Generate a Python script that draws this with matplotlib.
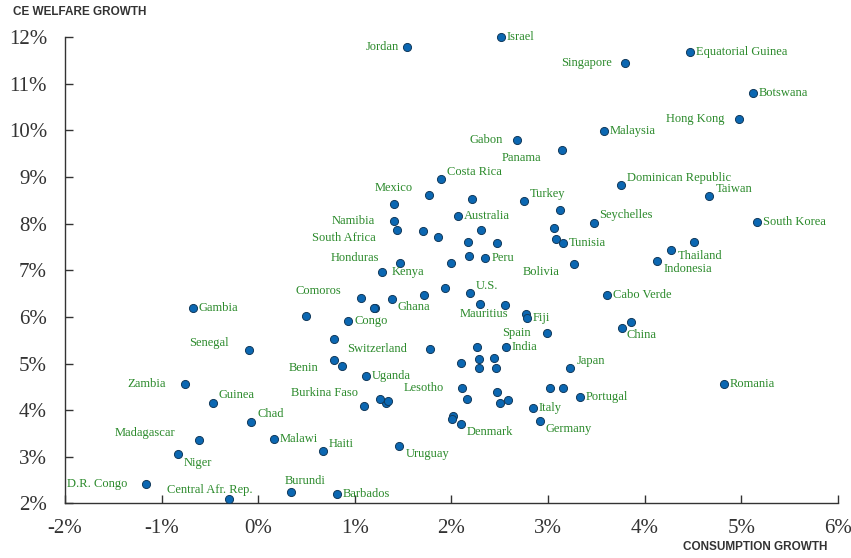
import matplotlib
matplotlib.use('Agg')
import matplotlib.pyplot as plt
from matplotlib.ticker import FuncFormatter
plt.rcParams['axes.unicode_minus'] = False

# labelled countries: consumption growth (%), CE welfare growth (%)
names = ['Jordan', 'Israel', 'Equatorial Guinea', 'Singapore', 'Botswana', 'Hong Kong',
         'Malaysia', 'Gabon', 'Panama', 'Costa Rica', 'Mexico', 'Turkey',
         'Dominican Republic', 'Taiwan', 'Namibia', 'South Africa', 'Australia',
         'Seychelles', 'South Korea', 'Tunisia', 'Thailand', 'Indonesia', 'Peru',
         'Bolivia', 'Honduras', 'Kenya', 'Comoros', 'Ghana', 'U.S.', 'Mauritius',
         'Fiji', 'Cabo Verde', 'China', 'Spain', 'India', 'Japan', 'Romania',
         'Portugal', 'Italy', 'Germany', 'Denmark', 'Lesotho', 'Switzerland',
         'Congo', 'Gambia', 'Senegal', 'Benin', 'Uganda', 'Zambia', 'Guinea',
         'Burkina Faso', 'Chad', 'Madagascar', 'Malawi', 'Haiti', 'Uruguay',
         'Niger', 'D.R. Congo', 'Central Afr. Rep.', 'Burundi', 'Barbados']
cons = [1.54, 2.51, 4.47, 3.80, 5.12, 4.98,
        3.58, 2.68, 3.14, 1.89, 1.77, 2.75,
        3.75, 4.67, 1.40, 1.44, 2.07,
        3.47, 5.16, 3.15, 4.27, 4.13, 2.35,
        3.27, 1.47, 1.28, 1.06, 1.38, 2.19, 2.29,
        2.78, 3.61, 3.76, 2.99, 2.56, 3.23, 4.82,
        3.33, 2.84, 2.92, 2.10, 2.11, 1.78,
        0.93, -0.68, -0.10, 0.78, 1.11, -0.76, -0.47,
        1.26, -0.07, -0.61, 0.16, 0.67, 1.46,
        -0.83, -1.16, -0.30, 0.34, 0.81]
welf = [11.80, 12.01, 11.68, 11.44, 10.81, 10.25,
        9.98, 9.80, 9.58, 8.95, 8.62, 8.48,
        8.84, 8.60, 8.05, 7.86, 8.17,
        8.02, 8.04, 7.59, 7.43, 7.21, 7.27,
        7.14, 7.15, 6.96, 6.41, 6.38, 6.51, 6.28,
        5.98, 6.48, 5.76, 5.65, 5.35, 4.90, 4.55,
        4.28, 4.04, 3.77, 3.70, 4.48, 5.32,
        5.91, 6.20, 5.30, 5.08, 4.73, 4.57, 4.16,
        4.23, 3.75, 3.36, 3.37, 3.12, 3.22,
        3.06, 2.42, 2.10, 2.24, 2.21]

# unlabelled countries
other_cons = [0.49, 1.21, 1.20, 1.72, 1.93, 2.55, 2.77, 1.40, 1.71, 2.21,
              3.12, 1.86, 2.31, 3.06, 2.17, 2.47, 3.08, 4.51, 2.00, 2.18,
              0.78, 0.87, 2.26, 2.10, 2.28, 2.44, 2.28, 2.46, 3.86, 2.47,
              3.02, 3.15, 2.16, 2.50, 2.58, 1.32, 1.34, 1.09, 2.02, 2.01]
other_welf = [6.01, 6.19, 6.20, 6.46, 6.61, 6.26, 6.06, 8.42, 7.84, 8.52,
              8.30, 7.71, 7.86, 7.91, 7.60, 7.59, 7.67, 7.61, 7.16, 7.31,
              5.53, 4.95, 5.36, 5.02, 5.09, 5.11, 4.90, 4.91, 5.88, 4.39,
              4.48, 4.48, 4.24, 4.15, 4.22, 4.15, 4.20, 4.09, 3.87, 3.81]

# label offsets (pixels) and alignment
offs = {'Jordan': (-8, 0, 'right'), 'Singapore': (-14, 0, 'right'),
        'Hong Kong': (-15, 0, 'right'), 'Gabon': (-14, 0, 'right'),
        'Panama': (-20, -8, 'right'), 'Costa Rica': (6, 7, 'left'),
        'Mexico': (-16, 7, 'right'), 'Turkey': (6, 7, 'left'),
        'Dominican Republic': (6, 7, 'left'), 'Taiwan': (6, 7, 'left'),
        'Namibia': (-19, 0, 'right'), 'South Africa': (-22, -8, 'right'),
        'Seychelles': (6, 8, 'left'), 'Thailand': (7, -6, 'left'),
        'Indonesia': (6, -8, 'left'), 'Bolivia': (-15, -8, 'right'),
        'Honduras': (-21, 5, 'right'), 'Kenya': (10, 0, 'left'),
        'Comoros': (-19, 7, 'right'), 'Ghana': (6, -8, 'left'),
        'U.S.': (6, 7, 'left'), 'Mauritius': (4, -10, 'center'),
        'China': (5, -7, 'left'), 'Spain': (-16, 0, 'right'),
        'Japan': (6, 7, 'left'), 'Germany': (5, -8, 'left'),
        'Denmark': (6, -8, 'left'), 'Lesotho': (-18, 0, 'right'),
        'Switzerland': (-23, 0, 'right'), 'Senegal': (-20, 7, 'right'),
        'Benin': (-15, -8, 'right'), 'Zambia': (-19, 0, 'right'),
        'Guinea': (6, 8, 'left'), 'Burkina Faso': (-22, 6, 'right'),
        'Chad': (6, 8, 'left'), 'Madagascar': (-24, 7, 'right'),
        'Haiti': (6, 7, 'left'), 'Uruguay': (6, -8, 'left'),
        'Niger': (6, -9, 'left'), 'D.R. Congo': (-19, 0, 'right'),
        'Central Afr. Rep.': (23, 9, 'right'), 'Burundi': (-6, 11, 'left')}

fig = plt.figure(figsize=(8.51, 5.58), dpi=100)
ax = fig.add_axes([0.0764, 0.098, 0.9083, 0.8352])

ax.scatter(other_cons, other_welf, s=34, color='#0b67b2', edgecolor='#123a5c',
           linewidth=0.7, zorder=3, clip_on=False)
ax.scatter(cons, welf, s=34, color='#0b67b2', edgecolor='#123a5c',
           linewidth=0.7, zorder=3, clip_on=False)

for n, x, y in zip(names, cons, welf):
    dx, dy, ha = offs.get(n, (6, 0, 'left'))
    ax.annotate(n, (x, y), xytext=(dx, dy), textcoords='offset pixels',
                ha=ha, va='center', fontsize=9, color='#2b8a2b',
                family='Liberation Serif')

ax.set_xlim(-2, 6)
ax.set_ylim(2, 12)
ax.set_xticks(range(-2, 7))
ax.set_yticks(range(2, 13))
ax.xaxis.set_major_formatter(FuncFormatter(lambda v, p: '%d%%' % v))
ax.yaxis.set_major_formatter(FuncFormatter(lambda v, p: '%d%%' % v))
for lab in ax.get_xticklabels() + ax.get_yticklabels():
    lab.set_family('Liberation Serif')
    lab.set_fontsize(15)
    lab.set_color('#333333')
ax.tick_params(direction='in', length=6, width=1, color='#333333')
ax.tick_params(axis='x', pad=11)
ax.tick_params(axis='y', pad=13)
for s in ['top', 'right']:
    ax.spines[s].set_visible(False)
for s in ['left', 'bottom']:
    ax.spines[s].set_color('#333333')
    ax.spines[s].set_linewidth(1)

fig.text(0.015, 0.978, 'CE WELFARE GROWTH', fontsize=8.5, fontweight='bold',
         family='Liberation Sans', color='#333333', va='center', ha='left')
fig.text(0.972, 0.019, 'CONSUMPTION GROWTH', fontsize=8.5, fontweight='bold',
         family='Liberation Sans', color='#333333', va='center', ha='right')

fig.savefig('out.png', dpi=100)
